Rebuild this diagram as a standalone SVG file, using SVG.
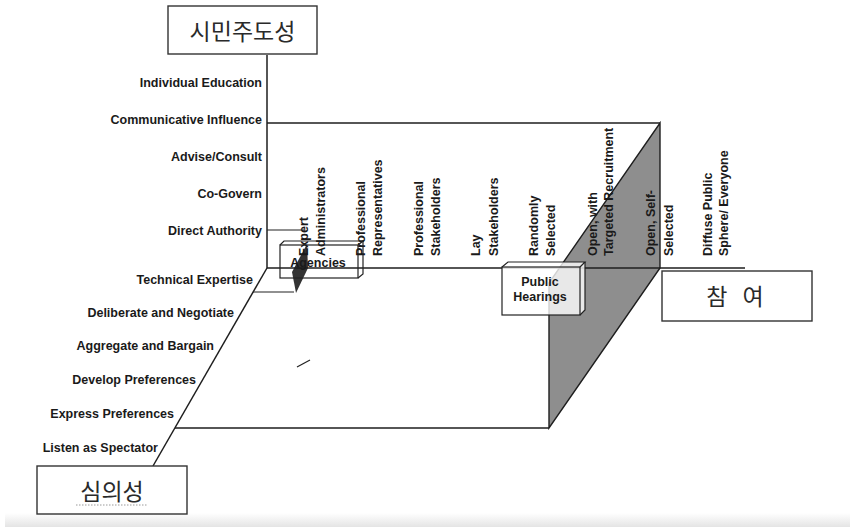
<svg xmlns="http://www.w3.org/2000/svg" width="850" height="527" viewBox="0 0 850 527">
  <defs>
    <linearGradient id="band" x1="0" y1="0" x2="0" y2="1">
      <stop offset="0" stop-color="#ffffff"/>
      <stop offset="1" stop-color="#e4e4e4"/>
    </linearGradient>
    <style>
      .lbl{font-family:"Liberation Sans",Arial,Helvetica,sans-serif;font-size:12.5px;font-weight:bold;fill:#1a1a1a}
      .end{text-anchor:end}
      .mid{text-anchor:middle}
      .ko{font-family:"Noto Sans CJK KR","Noto Sans",sans-serif;font-size:23px;fill:#2a2a2a;text-anchor:middle}
      .box{fill:#fff;stroke:#333;stroke-width:1.4}
      .ln{stroke:#1e1e1e;stroke-width:1.5;fill:none}
      .thin{stroke:#222;stroke-width:1.2;fill:none}
    </style>
  </defs>
  <rect x="0" y="0" width="850" height="527" fill="#fff"/>
  <rect x="5" y="513" width="845" height="14" fill="url(#band)"/>

  <g id="plane">
    <polygon points="660,123 660,268 549,428 549,283" fill="#8e8e8e" stroke="#1e1e1e" stroke-width="1.4"/>
    <polygon points="307,244 308,268 296,293 292,272" fill="#333"/>
  </g>

  <g id="connectors">
    <line class="ln" x1="267" y1="55" x2="267" y2="268"/>
    <line class="ln" x1="267" y1="123" x2="660" y2="123"/>
    <line class="ln" x1="267" y1="268" x2="745" y2="268" stroke-width="2.2"/>
    <line class="ln" x1="267" y1="268" x2="153" y2="466"/>
    <line class="ln" x1="175" y1="428" x2="549" y2="428"/>
    <line class="thin" x1="267" y1="230" x2="304" y2="230"/>
    <line class="thin" x1="253" y1="292" x2="294" y2="292"/>
    <line class="thin" x1="297" y1="367" x2="310" y2="360"/>
  </g>

  <g id="axis-vertical-labels">
    <text class="lbl end" x="262" y="87">Individual Education</text>
    <text class="lbl end" x="262" y="124">Communicative Influence</text>
    <text class="lbl end" x="262" y="161">Advise/Consult</text>
    <text class="lbl end" x="262" y="198">Co-Govern</text>
    <text class="lbl end" x="262" y="235">Direct Authority</text>
  </g>

  <g id="axis-diagonal-labels">
    <text class="lbl end" x="253" y="284">Technical Expertise</text>
    <text class="lbl end" x="234" y="317">Deliberate and Negotiate</text>
    <text class="lbl end" x="214" y="350">Aggregate and Bargain</text>
    <text class="lbl end" x="196" y="384">Develop Preferences</text>
    <text class="lbl end" x="174" y="418">Express Preferences</text>
    <text class="lbl end" x="158" y="452">Listen as Spectator</text>
  </g>

  <g id="axis-horizontal-labels">
    <text class="lbl" transform="translate(307.5,256) rotate(-90)">Expert</text>
    <text class="lbl" transform="translate(324.5,256) rotate(-90)">Administrators</text>
    <text class="lbl" transform="translate(364.5,256) rotate(-90)">Professional</text>
    <text class="lbl" transform="translate(381.5,256) rotate(-90)">Representatives</text>
    <text class="lbl" transform="translate(422.5,256) rotate(-90)">Professional</text>
    <text class="lbl" transform="translate(439.5,256) rotate(-90)">Stakeholders</text>
    <text class="lbl" transform="translate(479.5,256) rotate(-90)">Lay</text>
    <text class="lbl" transform="translate(497.5,256) rotate(-90)">Stakeholders</text>
    <text class="lbl" transform="translate(537.5,256) rotate(-90)">Randomly</text>
    <text class="lbl" transform="translate(554.5,256) rotate(-90)">Selected</text>
    <text class="lbl" transform="translate(596.5,256) rotate(-90)">Open, with</text>
    <text class="lbl" transform="translate(612.5,256) rotate(-90)">Targeted Recruitment</text>
    <text class="lbl" transform="translate(654.5,256) rotate(-90)">Open, Self-</text>
    <text class="lbl" transform="translate(672.5,256) rotate(-90)">Selected</text>
    <text class="lbl" transform="translate(711.5,256) rotate(-90)">Diffuse Public</text>
    <text class="lbl" transform="translate(727.5,256) rotate(-90)">Sphere/ Everyone</text>
  </g>

  <g id="agencies">
    <rect x="280" y="245" width="78" height="33" class="thin"/>
    <polyline class="thin" points="280,245 284,241 363,241 358,245"/>
    <polyline class="thin" points="363,241 363,274 358,278"/>
    <text class="lbl mid" x="318" y="267">Agencies</text>
  </g>

  <g id="public-hearings">
    <polygon points="502,267 508,262 585,262 585,310 580,315 502,315" fill="#fff" fill-opacity="0.8"/>
    <rect x="502" y="267" width="78" height="48" class="thin"/>
    <polyline class="thin" points="502,267 508,262 585,262 580,267"/>
    <polyline class="thin" points="585,262 585,310 580,315"/>
    <text class="lbl mid" x="540" y="286">Public</text>
    <text class="lbl mid" x="540" y="301">Hearings</text>
  </g>

  <g id="citizen-control">
    <rect class="box" x="168" y="6" width="149" height="48"/>
    <text class="ko" x="242.5" y="40">시민주도성</text>
  </g>

  <g id="participation">
    <rect class="box" x="662" y="271" width="150" height="50"/>
    <text class="ko" x="735" y="305" word-spacing="10">참 여</text>
  </g>

  <g id="deliberation">
    <rect class="box" x="37" y="466" width="150" height="48"/>
    <text class="ko" x="112" y="500">심의성</text>
    <line x1="76" y1="505" x2="148" y2="505" stroke="#9a9a9a" stroke-width="1" stroke-dasharray="1.5 1.5"/>
  </g>
</svg>
